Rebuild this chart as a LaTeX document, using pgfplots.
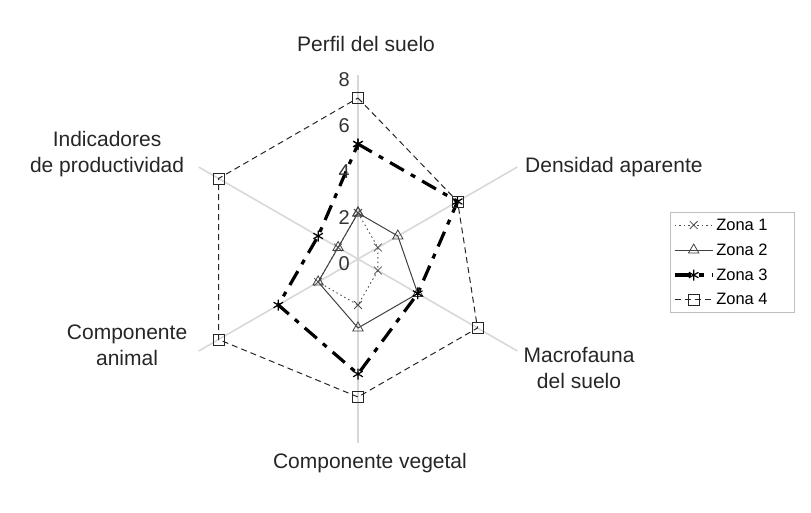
\documentclass[border=0pt]{standalone}
\usepackage{fontspec}
\setmainfont{Liberation Sans}
\usepackage{pgfplots}
\pgfplotsset{compat=1.18}
\definecolor{spoke}{HTML}{D8D8D8}
\begin{document}
\begin{tikzpicture}
\useasboundingbox (0pt,0pt) rectangle (811pt,512pt);
\begin{axis}[
  at={(0pt,0pt)}, anchor=south west,
  width=811pt, height=512pt, scale only axis,
  hide axis, clip=false,
  xmin=-15.565, xmax=19.696, ymin=-11.0, ymax=11.261,
  legend style={at={(rel axis cs:0.826,0.585)}, anchor=north west,
    draw=gray!50, fill=white, font=\fontsize{16.5}{19}\selectfont,
    row sep=8pt, inner xsep=3pt, inner ysep=4pt, cells={anchor=west}},
  legend image code/.code={\draw[mark repeat=2,mark phase=2,#1] plot coordinates {(0pt,0pt)(19pt,0pt)(38pt,0pt)};},
]
% spokes
\addplot[spoke, line width=1.6pt, forget plot, data cs=polar] coordinates {(90,8) (270,8)};
\addplot[spoke, line width=1.6pt, forget plot, data cs=polar] coordinates {(30,8) (210,8)};
\addplot[spoke, line width=1.6pt, forget plot, data cs=polar] coordinates {(-30,8) (150,8)};

% Zona 1
\addplot[black!70, line width=0.9pt, dash pattern=on 1.5pt off 3pt, mark=x, mark size=5.5pt,
  mark options={solid, line width=0.8pt}, data cs=polar]
  coordinates {(90,2) (30,1) (-30,1) (-90,2) (-150,2) (150,1) (90,2)};
\addlegendentry{Zona 1\hspace*{22pt}}
% Zona 2
\addplot[black!75, line width=1pt, mark=triangle, mark size=6pt,
  mark options={solid, line width=0.8pt}, data cs=polar]
  coordinates {(90,2) (30,2) (-30,3) (-90,3) (-150,2) (150,1) (90,2)};
\addlegendentry{Zona 2}
% Zona 3
\addplot[black, line width=3.2pt, dash pattern=on 16pt off 8pt on 5pt off 8pt, mark=asterisk, mark size=5.5pt,
  mark options={solid, line width=1.2pt}, data cs=polar]
  coordinates {(90,5) (30,5) (-30,3) (-90,5) (-150,4) (150,2) (90,5)};
\addlegendentry{Zona 3}
% Zona 4
\addplot[black!85, line width=1pt, dash pattern=on 6pt off 4pt, mark=square, mark size=5.5pt,
  mark options={solid, line width=0.8pt}, data cs=polar]
  coordinates {(90,7) (30,5) (-30,6) (-90,6) (-150,7) (150,7) (90,7)};
\addlegendentry{Zona 4}

% radial tick labels
\foreach \v in {0,2,4,6,8} {
  \edef\temp{\noexpand\node[anchor=east, inner sep=0pt, yshift=-5pt, text=black!80,
    font=\noexpand\fontsize{20}{24}\noexpand\selectfont] at (axis cs:-0.35,\v) {\v};}
  \temp
}

% category labels
\begin{scope}[every node/.style={inner sep=0pt, align=center, text=black!85,
    font=\fontsize{21}{26}\selectfont}]
\node[anchor=center] at (axis cs:0.35,9.35) {Perfil del suelo};
\node[anchor=west] at (axis cs:7.26,4.0) {Densidad aparente};
\node[anchor=center] at (axis cs:9.61,-4.74) {Macrofauna\\del suelo};
\node[anchor=center] at (axis cs:0.52,-8.87) {Componente vegetal};
\node[anchor=center] at (axis cs:-10.04,-3.74) {Componente\\animal};
\node[anchor=center] at (axis cs:-10.91,4.57) {Indicadores\\de productividad};
\end{scope}
\end{axis}
\end{tikzpicture}
\end{document}
